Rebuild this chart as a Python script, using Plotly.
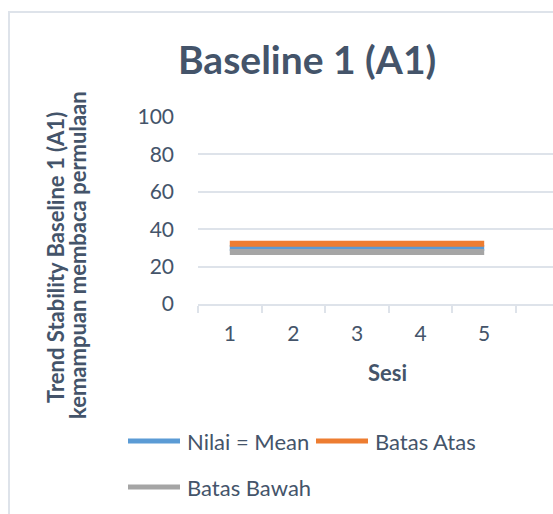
import plotly.graph_objects as go

W, H = 553, 514

sesi = [1, 2, 3, 4, 5]
mean_vals = [30, 30, 30, 30, 30]
atas_vals = [32.25, 32.25, 32.25, 32.25, 32.25]
bawah_vals = [27.75, 27.75, 27.75, 27.75, 27.75]

series_names = ["Nilai = Mean", "Batas Atas", "Batas Bawah"]
series_colors = ["#5B9BD5", "#ED7D31", "#A5A5A5"]
series_values = [mean_vals, atas_vals, bawah_vals]

y_ticks = [0, 20, 40, 60, 80, 100]

TXT = "#44546A"
GRID = "#DEE3EA"
FONT = "Lato"


def px(x):
    return x / W


def py(y):
    return 1 - y / H


fig = go.Figure()
for name, color, vals in zip(series_names, series_colors, series_values):
    fig.add_trace(go.Scatter(x=sesi, y=vals, mode="lines", name=name,
                             line=dict(color=color, width=6), showlegend=False))

plot_left, plot_right, plot_top, plot_bottom = 198, 553, 117, 304

fig.update_layout(
    width=W, height=H,
    margin=dict(l=0, r=0, t=0, b=0),
    paper_bgcolor="white", plot_bgcolor="white",
    font=dict(family=FONT, color=TXT),
    xaxis=dict(
        domain=[px(plot_left), px(plot_right)],
        range=[0.5, 0.5 + (plot_right - plot_left) / 63.6],
        tickvals=sesi, ticktext=[str(s) for s in sesi],
        ticks="", showgrid=False, zeroline=False,
        showline=True, linecolor=GRID, linewidth=2,
        ticklabelstandoff=10,
        tickfont=dict(size=21, color=TXT),
        minor=dict(tickvals=[s - 0.5 for s in sesi] + [5.5], ticks="outside",
                   ticklen=7, tickwidth=2, tickcolor=GRID, showgrid=False),
        automargin=False,
    ),
    yaxis=dict(
        domain=[py(plot_bottom), py(plot_top)],
        range=[0, 100], tickvals=y_ticks,
        showgrid=True, gridcolor=GRID, gridwidth=2,
        zeroline=False, showline=False, ticks="",
        ticklabelstandoff=23,
        tickfont=dict(size=21, color=TXT),
        automargin=False,
    ),
)

# Chart title
fig.add_annotation(text="<b>Baseline 1 (A1)</b>", x=px(307), y=py(59), xref="paper", yref="paper",
                   showarrow=False, font=dict(size=39, color=TXT, family=FONT),
                   xanchor="center", yanchor="middle")
# Axis titles
fig.add_annotation(text="<b>Sesi</b>", x=px(387), y=py(372), xref="paper", yref="paper",
                   showarrow=False, font=dict(size=22, color=TXT, family=FONT),
                   xanchor="center", yanchor="middle")
fig.add_annotation(text="<b>Trend Stability Baseline 1 (A1)</b>", x=px(55), y=py(258),
                   xref="paper", yref="paper", textangle=-90, showarrow=False,
                   font=dict(size=22, color=TXT, family=FONT), xanchor="center", yanchor="middle")
fig.add_annotation(text="<b>kemampuan membaca permulaan</b>", x=px(77), y=py(255),
                   xref="paper", yref="paper", textangle=-90, showarrow=False,
                   font=dict(size=22, color=TXT, family=FONT), xanchor="center", yanchor="middle")

# Legend (custom, to match Excel style)
legend_pos = [(126, 441), (314, 441), (126, 487)]
for name, color, (lx, ly) in zip(series_names, series_colors, legend_pos):
    fig.add_shape(type="line", xref="paper", yref="paper",
                  x0=px(lx + 2), x1=px(lx + 54), y0=py(ly), y1=py(ly),
                  line=dict(color=color, width=5))
    fig.add_annotation(text=name, x=px(lx + 59), y=py(ly), xref="paper", yref="paper",
                       showarrow=False, xanchor="left", yanchor="middle",
                       font=dict(size=22, color=TXT, family=FONT))

# Chart border
fig.add_shape(type="rect", xref="paper", yref="paper",
              x0=px(9), x1=px(W + 5), y0=py(H + 5), y1=py(12),
              line=dict(color=GRID, width=2), fillcolor="rgba(0,0,0,0)", layer="below")

fig.write_html("out.html")
